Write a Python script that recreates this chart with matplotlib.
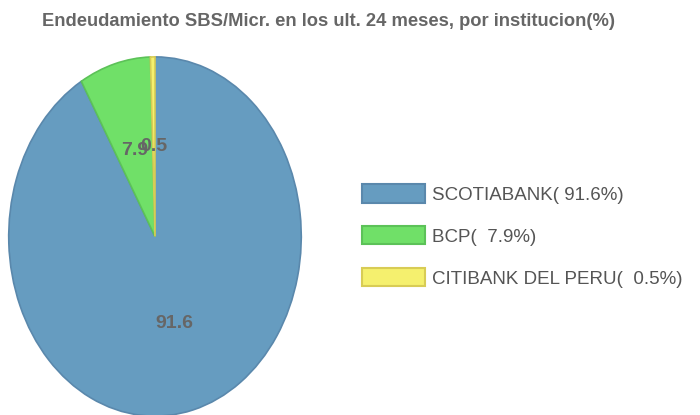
import matplotlib
matplotlib.use("Agg")
import matplotlib.pyplot as plt
from matplotlib.patches import Patch

plt.rcParams['font.family'] = ['Liberation Sans', 'DejaVu Sans']

# data
instituciones = ["SCOTIABANK", "BCP", "CITIBANK DEL PERU"]
porcentajes = [91.6, 7.9, 0.5]
colores = ["#669cc0", "#70e068", "#f5f06e"]
bordes = ["#5a88ac", "#5cc258", "#d8cc55"]
etiquetas_leyenda = ["SCOTIABANK( 91.6%)", "BCP(  7.9%)", "CITIBANK DEL PERU(  0.5%)"]

fig = plt.figure(figsize=(7, 4.15), dpi=100)
ax = fig.add_axes([8 / 700, -2 / 415, 294 / 700, 361 / 415])

wedges, texts = ax.pie(porcentajes, colors=colores, startangle=90, counterclock=False,
                       labels=[f"{p:.1f}" for p in porcentajes], labeldistance=0.5,
                       wedgeprops=dict(linewidth=1.2),
                       textprops=dict(color="#666666", fontsize=14, fontweight="bold"))
for w, b in zip(wedges, bordes):
    w.set_edgecolor(b)
for t in texts:
    t.set_horizontalalignment("center")
    t.set_verticalalignment("center")

ax.set_aspect("auto")
ax.set_xlim(-1.005, 1.005)
ax.set_ylim(-1.005, 1.005)

handles = [Patch(facecolor=c, edgecolor=b, linewidth=1.5) for c, b in zip(colores, bordes)]
fig.legend(handles, etiquetas_leyenda, loc="center left", bbox_to_anchor=(354.5 / 700, 1 - 236 / 415),
           borderaxespad=0, frameon=False, fontsize=13.5, handlelength=3.36, handleheight=1.12,
           handletextpad=0.37, labelspacing=1.2, labelcolor="#555555")

fig.text(328 / 700, 1 - 22 / 415, "Endeudamiento SBS/Micr. en los ult. 24 meses, por institucion(%)",
         ha="center", va="center", fontsize=13.2, fontweight="bold", color="#666666")

fig.savefig("out.png", dpi=100)
